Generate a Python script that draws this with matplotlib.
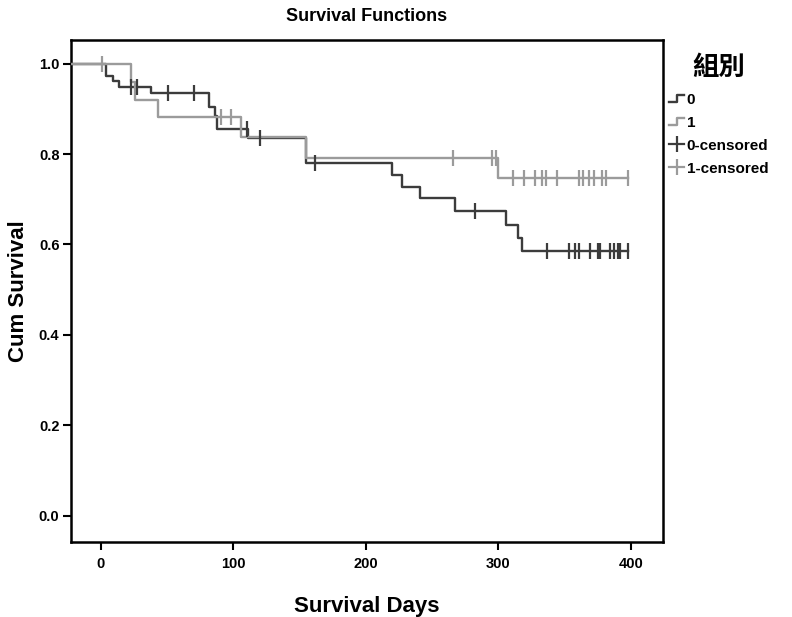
import matplotlib

matplotlib.use("Agg")
import matplotlib.pyplot as plt
import numpy as np
from matplotlib.legend_handler import HandlerBase
from matplotlib.lines import Line2D

plt.rcParams["font.family"] = ["Liberation Sans", "Noto Sans CJK TC", "DejaVu Sans"]

# ---------------------------------------------------------------- data
# group 0: event days and survival after each event, censored days
G0_EVENT_DAYS = [4, 9, 14, 38, 82, 86, 88, 111, 155, 220, 227, 241, 267, 306, 315, 318]
G0_SURV = [0.973, 0.962, 0.949, 0.934, 0.905, 0.883, 0.855, 0.835, 0.781,
           0.754, 0.728, 0.702, 0.673, 0.643, 0.614, 0.585]
G0_CENSORED = [23, 27, 51, 70, 110, 120, 162, 282, 337, 353, 358, 361, 369,
               375, 377, 384, 387, 390, 392, 398]

# group 1
G1_EVENT_DAYS = [23, 26, 43, 106, 155, 300]
G1_SURV = [0.960, 0.919, 0.881, 0.837, 0.792, 0.746]
G1_CENSORED = [1, 91, 98, 266, 295, 298, 311, 319, 328, 333, 336, 344, 361,
               364, 368, 372, 378, 381, 398]

GROUPS = ["0", "1"]
XTICKS = [0, 100, 200, 300, 400]
YTICKS = [0.0, 0.2, 0.4, 0.6, 0.8, 1.0]
XLIM = (-22.8, 424.2)
YLIM = (-0.057, 1.052)

DARK = "#3c3c3c"
LIGHT = "#9b9b9b"


def surv_at(days, event_days, surv):
    """KM step value at given days (right-continuous)."""
    idx = np.searchsorted(np.asarray(event_days), np.asarray(days), side="right")
    vals = np.concatenate([[1.0], surv])
    return vals[idx]


class StepHandler(HandlerBase):
    """legend handle drawn as a small step ( _| ̄ )."""

    def create_artists(self, legend, orig_handle, xdescent, ydescent,
                       width, height, fontsize, trans):
        x0 = -xdescent
        y0 = -ydescent
        xs = [x0, x0 + 0.5 * width, x0 + 0.5 * width, x0 + width]
        ys = [y0 + 0.15 * height, y0 + 0.15 * height, y0 + 0.85 * height, y0 + 0.85 * height]
        ln = Line2D(xs, ys, color=orig_handle.get_color(), lw=orig_handle.get_linewidth())
        ln.set_transform(trans)
        return [ln]


fig = plt.figure(figsize=(7.92, 6.17), dpi=100)
ax = fig.add_axes([70.5 / 792, 1 - 541.7 / 617, (663 - 70.5) / 792, (541.7 - 40) / 617])

series = [
    (G0_EVENT_DAYS, G0_SURV, G0_CENSORED, DARK),
    (G1_EVENT_DAYS, G1_SURV, G1_CENSORED, LIGHT),
]
last_day = max(G0_CENSORED + G1_CENSORED)
step_handles = []
for ev, sv, cens, col in series:
    xs = [XLIM[0]] + ev + [last_day]
    ys = [1.0] + sv + [sv[-1]]
    (h,) = ax.step(xs, ys, where="post", color=col, lw=1.7, zorder=3)
    ax.plot(cens, surv_at(cens, ev, sv), ls="none", marker="|", ms=11,
            mew=1.6, color=col, zorder=4)
    step_handles.append(h)

ax.set_xlim(*XLIM)
ax.set_ylim(*YLIM)
ax.set_xticks(XTICKS)
ax.set_yticks(YTICKS)
ax.set_xticklabels([str(v) for v in XTICKS], fontsize=10.5, fontweight="bold")
ax.set_yticklabels([f"{v:.1f}" for v in YTICKS], fontsize=10.5, fontweight="bold")
ax.tick_params(direction="out", length=6, width=1.5, pad=2)
ax.tick_params(axis="x", pad=5)
for sp in ax.spines.values():
    sp.set_linewidth(1.8)

ax.set_title("Survival Functions", fontsize=13, fontweight="bold", pad=14)
ax.set_xlabel("Survival Days", fontsize=16, fontweight="bold", labelpad=18)
ax.set_ylabel("Cum Survival", fontsize=16, fontweight="bold", labelpad=7)

# legend with step handles + censored ticks
cens_legend = [Line2D([], [], color=DARK, lw=1.6, marker="|", ms=11, mew=1.6),
               Line2D([], [], color=LIGHT, lw=1.6, marker="|", ms=11, mew=1.6)]
labels = GROUPS + [f"{g}-censored" for g in GROUPS]
leg = ax.legend(step_handles + cens_legend, labels,
                handler_map={h: StepHandler() for h in step_handles},
                loc="upper left", bbox_to_anchor=(1.008, 0.976), borderaxespad=0,
                frameon=False, handlelength=0.95, handletextpad=0.2,
                labelspacing=0.58, prop={"weight": "bold", "size": 11},
                title="組別", borderpad=0.1)
leg.get_title().set_fontsize(19)
leg.get_title().set_fontweight("bold")
leg.get_title().set_family(["Noto Sans CJK TC", "DejaVu Sans"])
leg._legend_box.sep = 9

fig.savefig("out.png", dpi=100)
